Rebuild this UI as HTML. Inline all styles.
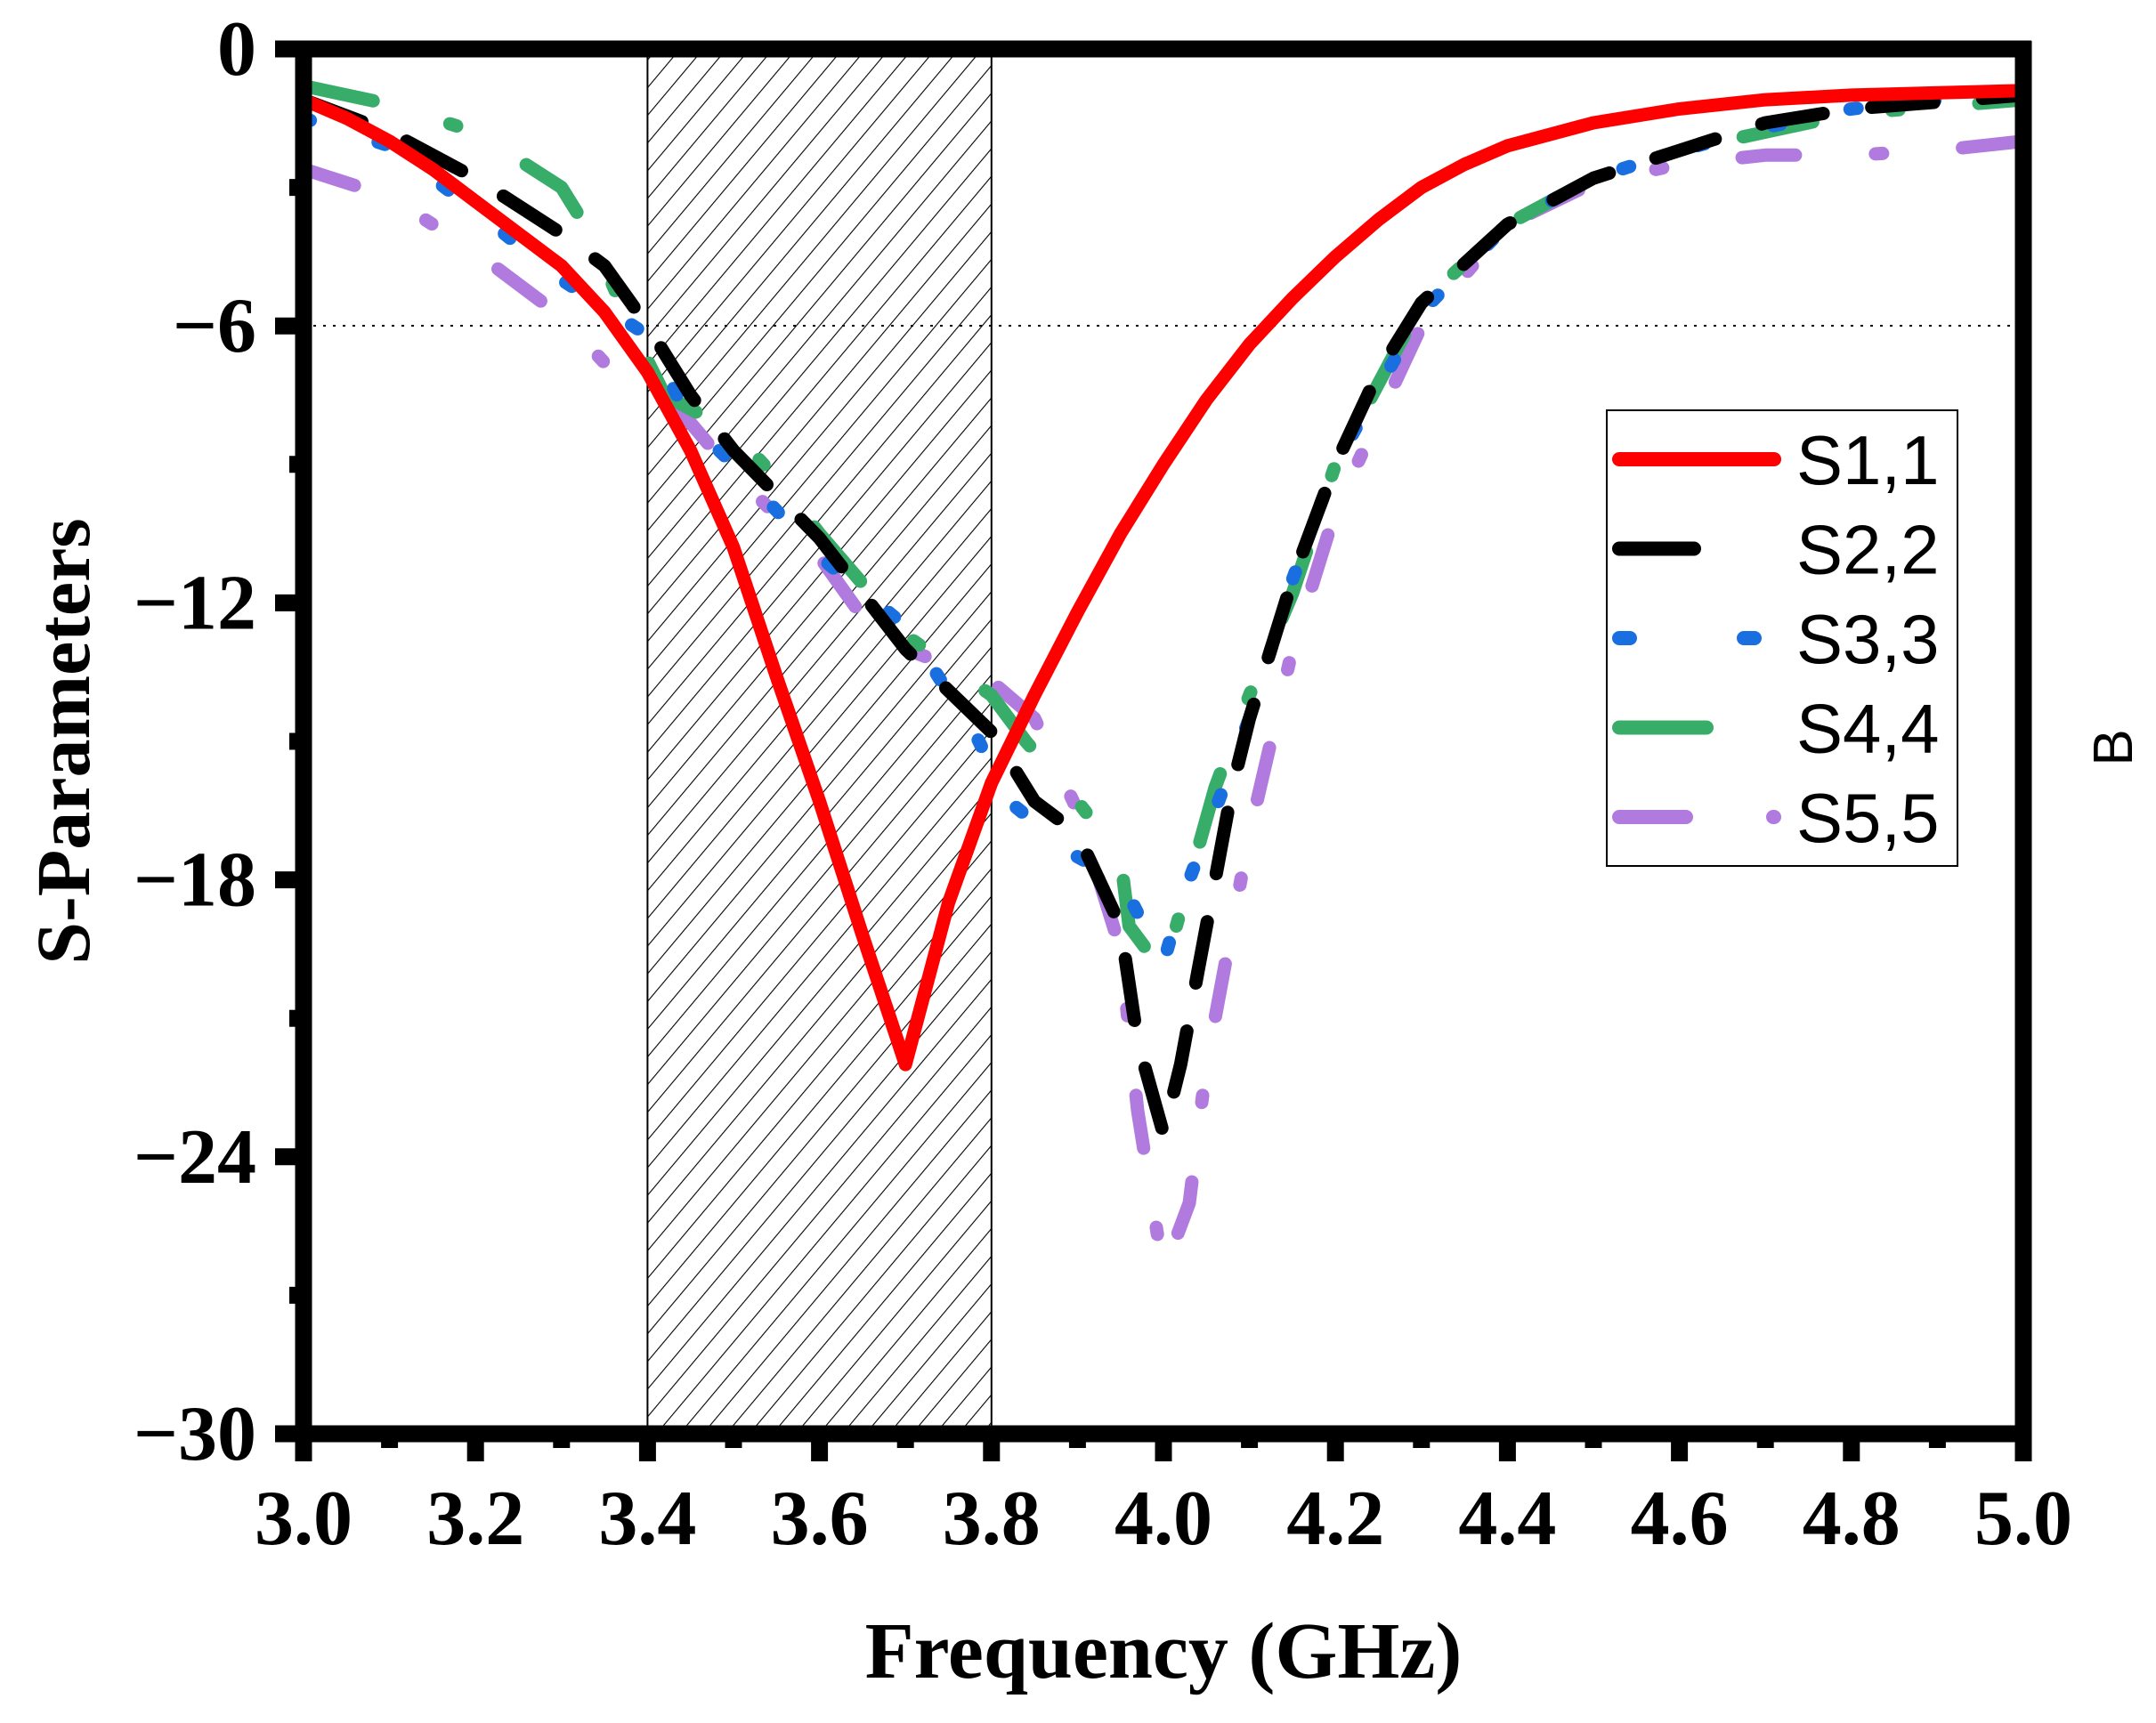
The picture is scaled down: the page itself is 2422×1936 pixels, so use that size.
<!DOCTYPE html>
<html><head><meta charset="utf-8"><style>
html,body{margin:0;padding:0;background:#fff;}
svg{display:block;}
</style></head><body>
<svg id="chart" width="2422" height="1936" viewBox="0 0 2422 1936" xmlns="http://www.w3.org/2000/svg">
<defs>
<pattern id="hatch" patternUnits="userSpaceOnUse" width="20" height="20" patternTransform="rotate(40)">
<line x1="0" y1="0" x2="0" y2="20" stroke="#000" stroke-width="2.2"/>
</pattern>
<clipPath id="plotclip"><rect x="341" y="55" width="1932" height="1556"/></clipPath>
</defs>
<g id="bands"></g>
<line x1="341" y1="366" x2="2273" y2="366" stroke="#000" stroke-width="2" stroke-dasharray="3 8"/>
<g id="series" clip-path="url(#plotclip)"></g>
<g id="axes"></g>
<text x="1307" y="1885" font-family="Liberation Serif, serif" font-weight="bold" font-size="90" text-anchor="middle">Frequency (GHz)</text>
<text transform="translate(100,833) rotate(-90)" font-family="Liberation Serif, serif" font-weight="bold" font-size="86" text-anchor="middle">S-Parameters</text>
<text transform="translate(2395,840) rotate(-90)" font-family="Liberation Sans, sans-serif" font-size="62" text-anchor="middle">B</text>
<g id="legend"></g>
</svg>
<script>
const xTicks = [3.0,3.2,3.4,3.6,3.8,4.0,4.2,4.4,4.6,4.8,5.0];
const yTicks = [0,-6,-12,-18,-24,-30];
const bandStart = 3.4, bandEnd = 3.8;
const refLine = -6;

const f11 = [3.0,3.05,3.1,3.15,3.2,3.25,3.3,3.35,3.4,3.45,3.5,3.55,3.6,3.65,3.7,3.75,3.8,3.85,3.9,3.95,4.0,4.05,4.1,4.15,4.2,4.25,4.3,4.35,4.4,4.5,4.6,4.7,4.8,5.0];
const s11 = [-1.1,-1.5,-2.0,-2.6,-3.3,-4.0,-4.7,-5.7,-7.0,-8.7,-10.8,-13.6,-16.3,-19.2,-22.0,-18.5,-15.9,-14.0,-12.2,-10.5,-9.0,-7.6,-6.4,-5.4,-4.5,-3.7,-3.0,-2.5,-2.1,-1.6,-1.3,-1.1,-1.0,-0.9];

const f22 = [3.0,3.1,3.2,3.3,3.35,3.4,3.45,3.5,3.6,3.65,3.7,3.8,3.85,3.9,3.95,3.97,4.0,4.02,4.04,4.06,4.08,4.1,4.15,4.2,4.25,4.3,4.4,4.5,4.6,4.7,4.8,5.0];
const s22 = [-1.1,-1.8,-2.8,-4.0,-4.7,-6.0,-7.5,-8.7,-10.6,-11.8,-13.0,-14.8,-16.3,-17.0,-19.0,-21.5,-23.5,-22.0,-20.0,-18.0,-16.0,-14.5,-11.5,-9.0,-7.0,-5.5,-3.8,-2.8,-2.2,-1.6,-1.3,-1.0];

const f33 = [3.0,3.1,3.2,3.3,3.4,3.45,3.5,3.6,3.7,3.78,3.82,3.9,3.95,4.0,4.02,4.05,4.1,4.15,4.2,4.3,4.4,4.5,4.6,4.7,4.8,4.9,5.0];
const s33 = [-1.5,-2.1,-3.5,-5.0,-6.2,-8.1,-9.0,-11.0,-12.5,-14.8,-16.3,-17.5,-18.0,-19.8,-18.5,-17.0,-14.5,-11.5,-9.0,-5.7,-3.8,-2.8,-2.2,-1.7,-1.3,-1.1,-1.0];

const f44 = [3.0,3.1,3.2,3.3,3.32,3.35,3.38,3.42,3.5,3.55,3.6,3.66,3.7,3.8,3.84,3.9,3.95,3.96,4.0,4.03,4.06,4.1,4.15,4.2,4.3,4.4,4.5,4.6,4.7,4.8,5.0];
const s44 = [-0.8,-1.2,-1.8,-3.0,-3.6,-4.7,-6.0,-7.5,-8.3,-9.3,-10.5,-11.8,-12.7,-14.0,-15.0,-16.3,-17.5,-19.0,-20.0,-18.0,-16.0,-14.0,-11.8,-9.0,-5.5,-3.8,-2.8,-2.2,-1.8,-1.4,-1.1];

const f55 = [3.0,3.1,3.2,3.3,3.35,3.4,3.45,3.5,3.6,3.65,3.7,3.8,3.85,3.9,3.95,3.97,4.0,4.03,4.05,4.08,4.1,4.15,4.2,4.3,4.4,4.5,4.6,4.7,4.8,4.9,5.0];
const s55 = [-2.6,-3.2,-4.4,-5.8,-6.8,-7.4,-8.1,-9.2,-11.0,-12.3,-13.0,-13.7,-14.5,-16.5,-19.5,-23.0,-26.5,-25.0,-22.0,-19.0,-17.0,-13.0,-10.0,-6.0,-3.8,-2.9,-2.5,-2.3,-2.3,-2.2,-2.0];

const seriesNames = ["S1,1","S2,2","S3,3","S4,4","S5,5"];

const X0=341, X1=2273, Y0=55, Y1=1611;
const xScale = v => X0 + (v-3.0)/(5.0-3.0)*(X1-X0);
const yScale = v => Y0 + (0-v)/30*(Y1-Y0);
const NS="http://www.w3.org/2000/svg";
function mk(tag, attrs){const e=document.createElementNS(NS,tag);for(const k in attrs)e.setAttribute(k,attrs[k]);return e;}

const bands=document.getElementById('bands');
const band=mk('rect',{x:xScale(bandStart),y:Y0,width:xScale(bandEnd)-xScale(bandStart),height:Y1-Y0,fill:'url(#hatch)',stroke:'#000','stroke-width':2});


bands.appendChild(band);

const styles=[
 {c:'#ff0000',d:'none'},
 {c:'#000000',d:'70 55'},
 {c:'#1a6fe0',d:'8 80'},
 {c:'#38ad6a',d:'80 90 8 90'},
 {c:'#b07ade',d:'60 90 8 90'}
];
const fs=[f11,f22,f33,f44,f55], ss=[s11,s22,s33,s44,s55];
const sg=document.getElementById('series');
for(let i=4;i>=0;i--){
  const pts=fs[i].map((f,j)=>xScale(f).toFixed(1)+','+yScale(ss[i][j]).toFixed(1)).join(' ');
  const p=mk('polyline',{points:pts,fill:'none',stroke:styles[i].c,'stroke-width':15,'stroke-linecap':'round','stroke-linejoin':'round'});
  if(styles[i].d!=='none')p.setAttribute('stroke-dasharray',styles[i].d);
  
  
  sg.appendChild(p);
}

const ax=document.getElementById('axes');
const axLines=[[X0,Y0-9,X0,Y1+9],[X1,Y0-9,X1,Y1+9],[X0-32,Y0,X1+9,Y0],[X0-9,Y1,X1+9,Y1]];
axLines.forEach((l,k)=>{
  const e=mk('line',{x1:l[0],y1:l[1],x2:l[2],y2:l[3],stroke:'#000','stroke-width':19});
  
  
  ax.appendChild(e);
});
for(let v=3.0;v<=5.0001;v+=0.1){
  const major=Math.abs(Math.round(v*10)%2)===0;
  const t=mk('line',{x1:xScale(v),y1:Y1,x2:xScale(v),y2:Y1+(major?31:16),stroke:'#000','stroke-width':19});
  
  
  ax.appendChild(t);
}
xTicks.forEach(v=>{
  const t=mk('text',{x:xScale(v),y:1735,'font-family':'Liberation Serif, serif','font-weight':'bold','font-size':88,'text-anchor':'middle'});
  t.textContent=v.toFixed(1);
  
  
  ax.appendChild(t);
});
for(let v=0;v>=-30;v-=3){
  const major=(v%6===0);
  const t=mk('line',{x1:X0,y1:yScale(v),x2:X0-(major?32:16),y2:yScale(v),stroke:'#000','stroke-width':19});
  
  
  ax.appendChild(t);
}
yTicks.forEach(v=>{
  const t=mk('text',{x:288,y:yScale(v)+29,'font-family':'Liberation Serif, serif','font-weight':'bold','font-size':88,'text-anchor':'end'});
  t.textContent=v===0?'0':'\u2212'+Math.abs(v);
  
  
  ax.appendChild(t);
});

const lg=document.getElementById('legend');
const box=mk('rect',{x:1805,y:461,width:394,height:512,fill:'#fff',stroke:'#000','stroke-width':2});


lg.appendChild(box);
const legDash=['none','84 200','12 128','98 78 12 200','75 98 12 200'];
seriesNames.forEach((n,i)=>{
  const y=516+i*100.5;
  const l=mk('line',{x1:1819,y1:y,x2:1993,y2:y,stroke:styles[i].c,'stroke-width':16,'stroke-linecap':'round'});
  if(legDash[i]!=='none')l.setAttribute('stroke-dasharray',legDash[i]);
  
  
  lg.appendChild(l);
  const t=mk('text',{x:2018,y:y+28,'font-family':'Liberation Sans, sans-serif','font-size':78});
  t.textContent=n;
  
  
  lg.appendChild(t);
});
</script>
</body></html>
